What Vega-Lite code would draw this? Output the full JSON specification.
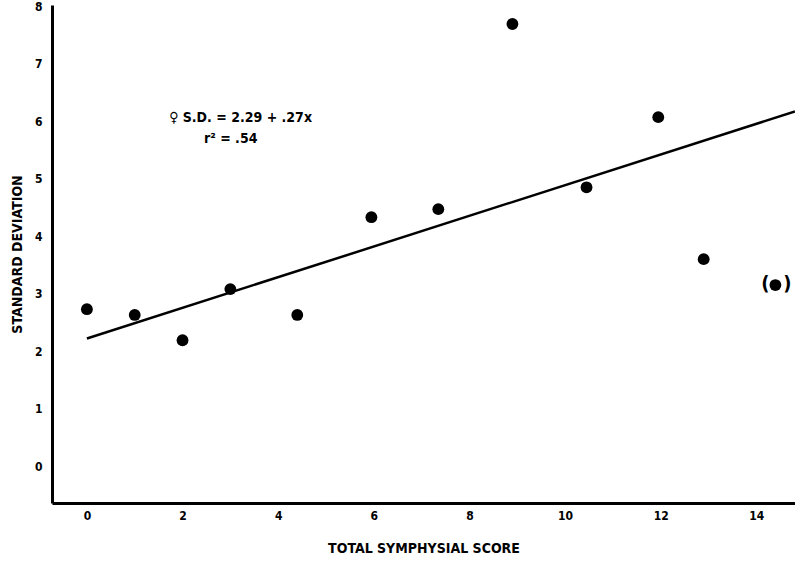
{
  "$schema": "https://vega.github.io/schema/vega-lite/v6.json",
  "width": 743,
  "height": 498,
  "autosize": {"type": "none"},
  "padding": {"left": 52, "top": 5, "right": 0, "bottom": 58},
  "background": "white",
  "config": {
    "view": {"stroke": null},
    "font": "DejaVu Sans Condensed",
    "axis": {
      "domainColor": "black",
      "domainWidth": 3,
      "grid": false,
      "ticks": false,
      "labelFont": "DejaVu Sans Condensed",
      "labelFontWeight": "bold",
      "labelFontSize": 12,
      "labelColor": "black",
      "titleFont": "DejaVu Sans Condensed",
      "titleFontWeight": "bold",
      "titleFontSize": 14,
      "titleColor": "black"
    }
  },
  "datasets": {
    "points": [
      {"score": 0, "sd": 2.73, "paren": false},
      {"score": 1, "sd": 2.63, "paren": false},
      {"score": 2, "sd": 2.19, "paren": false},
      {"score": 3, "sd": 3.08, "paren": false},
      {"score": 4.4, "sd": 2.63, "paren": false},
      {"score": 5.95, "sd": 4.33, "paren": false},
      {"score": 7.35, "sd": 4.47, "paren": false},
      {"score": 8.9, "sd": 7.69, "paren": false},
      {"score": 10.45, "sd": 4.85, "paren": false},
      {"score": 11.95, "sd": 6.07, "paren": false},
      {"score": 12.9, "sd": 3.6, "paren": false},
      {"score": 14.4, "sd": 3.15, "paren": true}
    ],
    "fit": [
      {"score": 0, "sd": 2.22},
      {"score": 14.81, "sd": 6.17}
    ],
    "labels": [
      {"score": 1.72, "sd": 6.05, "text": "♀ S.D. = 2.29 + .27x"},
      {"score": 2.45, "sd": 5.69, "text": "r² = .54"}
    ]
  },
  "layer": [
    {
      "data": {"name": "fit"},
      "mark": {"type": "line", "color": "black", "strokeWidth": 2.5, "clip": true},
      "encoding": {
        "x": {"field": "score", "type": "quantitative", "scale": {"domain": [-0.73, 14.81], "nice": false, "zero": false},
              "axis": {"values": [0, 2, 4, 6, 8, 10, 12, 14], "format": "d", "title": "TOTAL SYMPHYSIAL SCORE", "labelPadding": 7, "titlePadding": 20}},
        "y": {"field": "sd", "type": "quantitative", "scale": {"domain": [-0.64, 8.02], "nice": false, "zero": false},
              "axis": {"values": [0, 1, 2, 3, 4, 5, 6, 7, 8], "format": "d", "title": "STANDARD DEVIATION", "labelPadding": 10, "titlePadding": 10}}
      }
    },
    {
      "data": {"name": "points"},
      "mark": {"type": "circle", "color": "black", "opacity": 1, "size": 140},
      "encoding": {
        "x": {"field": "score", "type": "quantitative"},
        "y": {"field": "sd", "type": "quantitative"}
      }
    },
    {
      "data": {"name": "points"},
      "transform": [{"filter": "datum.paren"}],
      "mark": {"type": "text", "text": "(", "font": "DejaVu Sans Condensed", "fontWeight": "bold", "fontSize": 20, "color": "black", "baseline": "middle", "dx": -10, "dy": -1},
      "encoding": {
        "x": {"field": "score", "type": "quantitative"},
        "y": {"field": "sd", "type": "quantitative"}
      }
    },
    {
      "data": {"name": "points"},
      "transform": [{"filter": "datum.paren"}],
      "mark": {"type": "text", "text": ")", "font": "DejaVu Sans Condensed", "fontWeight": "bold", "fontSize": 20, "color": "black", "baseline": "middle", "dx": 12, "dy": -1},
      "encoding": {
        "x": {"field": "score", "type": "quantitative"},
        "y": {"field": "sd", "type": "quantitative"}
      }
    },
    {
      "data": {"name": "labels"},
      "mark": {"type": "text", "align": "left", "baseline": "middle", "font": "DejaVu Sans Condensed", "fontWeight": "bold", "fontSize": 14, "color": "black"},
      "encoding": {
        "x": {"field": "score", "type": "quantitative"},
        "y": {"field": "sd", "type": "quantitative"},
        "text": {"field": "text"}
      }
    }
  ]
}
